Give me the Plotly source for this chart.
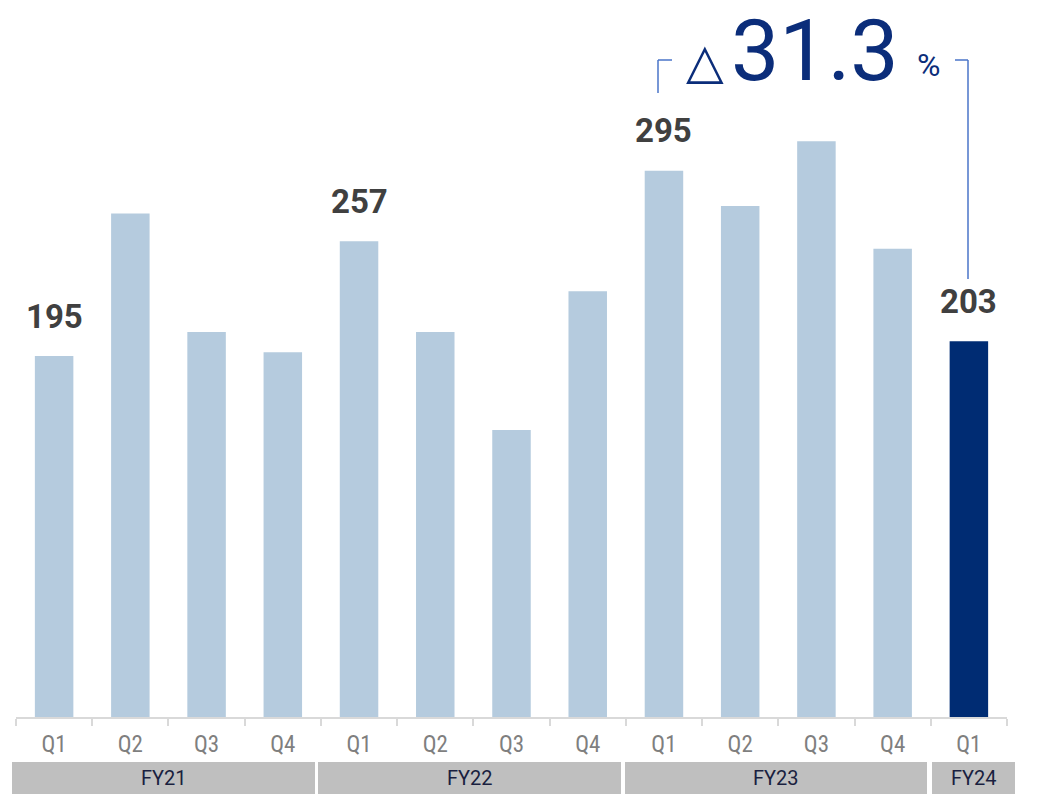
import plotly.graph_objects as go

# ---- data ----
quarters = ["Q1", "Q2", "Q3", "Q4", "Q1", "Q2", "Q3", "Q4", "Q1", "Q2", "Q3", "Q4", "Q1"]
fiscal_years = ["FY21", "FY22", "FY23", "FY24"]
fy_counts = [4, 4, 4, 1]
values = [195, 272, 208, 197, 257, 208, 155, 230, 295, 276, 311, 253, 203]
labeled = [0, 4, 8, 12]
change_text = "31.3"

# ---- layout constants (page offset of 8px from the html body margin) ----
OFF = 8
FIG_W, FIG_H = 1058 - OFF, 794 - OFF
PLOT_X0, PLOT_X1 = 16, 1007          # page px
PLOT_Y0, PLOT_Y1 = 8, 717            # page px
L = PLOT_X0 - OFF
R = FIG_W - (PLOT_X1 - OFF)
T = PLOT_Y0 - OFF
B = FIG_H - (PLOT_Y1 - OFF)
PW = PLOT_X1 - PLOT_X0
PH = PLOT_Y1 - PLOT_Y0


def px_x(px):
    return (px - PLOT_X0) / PW


def px_y(py):
    return (PLOT_Y1 - py) / PH


LIGHT = "#B5CBDE"
DARK = "#002C73"
NAVY = "#0B2D7A"
BRACKET = "#4A74C9"
COND = "Liberation Sans Narrow, Roboto Condensed, Roboto, sans-serif"

x = list(range(len(values)))
colors = [LIGHT] * (len(values) - 1) + [DARK]

fig = go.Figure()
fig.add_trace(go.Bar(x=x, y=values, marker=dict(color=colors, line=dict(width=0)),
                     width=0.505, hoverinfo="skip"))

annotations = []
for i in labeled:
    annotations.append(dict(x=i, y=values[i], xref="x", yref="y", text=str(values[i]),
                            showarrow=False, yanchor="middle", yshift=40,
                            font=dict(family="Roboto, sans-serif", size=33, color="#404040",
                                      weight="bold")))

# change annotation
annotations.append(dict(x=px_x(704.5), y=px_y(62), xref="paper", yref="paper", text="△",
                        showarrow=False, xanchor="center", yanchor="middle",
                        font=dict(family="DejaVu Sans", size=49, color=NAVY)))
annotations.append(dict(x=px_x(814.5), y=px_y(50), xref="paper", yref="paper", text=change_text,
                        showarrow=False, xanchor="center", yanchor="middle",
                        font=dict(family="Roboto, sans-serif", size=86, color=NAVY)))
annotations.append(dict(x=px_x(928.5), y=px_y(65), xref="paper", yref="paper", text="%",
                        showarrow=False, xanchor="center", yanchor="middle",
                        font=dict(family="Roboto, sans-serif", size=32, color=NAVY)))

shapes = []
# bracket
for (x0, y0, x1, y1) in [(658, 93, 658, 60), (658, 60, 672, 60),
                         (955, 60, 968, 60), (968, 60, 968, 279)]:
    shapes.append(dict(type="line", xref="paper", yref="paper",
                       x0=px_x(x0), y0=px_y(y0), x1=px_x(x1), y1=px_y(y1),
                       line=dict(color=BRACKET, width=1.5)))

# fiscal year bands
band_edges = [(12, 315), (318, 621), (625, 927), (932, 1015)]
for fy, (bx0, bx1) in zip(fiscal_years, band_edges):
    shapes.append(dict(type="rect", xref="paper", yref="paper",
                       x0=px_x(bx0), x1=px_x(bx1), y0=px_y(762), y1=px_y(794),
                       fillcolor="#BFBFBF", line=dict(width=0), layer="below"))
    annotations.append(dict(x=px_x((bx0 + bx1) / 2), y=px_y(778), xref="paper", yref="paper",
                            text=fy, showarrow=False, xanchor="center", yanchor="middle",
                            font=dict(family="Roboto, sans-serif", size=20, color="#1A1F40")))

ymax = PH / ((717 - 356) / 195)

fig.update_layout(
    width=FIG_W, height=FIG_H, autosize=False,
    margin=dict(l=L, r=R, t=T, b=B),
    paper_bgcolor="white", plot_bgcolor="white",
    showlegend=False,
    bargap=0.5,
    annotations=annotations,
    shapes=shapes,
    xaxis=dict(range=[-0.5, len(values) - 0.5], tickmode="array", tickvals=x, ticktext=quarters,
               ticks="", showgrid=False, zeroline=False, showline=True,
               linecolor="#D9D9D9", linewidth=1.5,
               tickfont=dict(family=COND, size=23, color="#7F7F7F"),
               ticklabelstandoff=6,
               minor=dict(tickmode="array", tickvals=[i - 0.5 for i in range(len(values) + 1)],
                          ticks="outside", ticklen=7, tickcolor="#D9D9D9", tickwidth=1.5,
                          showgrid=False),
               fixedrange=True),
    yaxis=dict(range=[0, ymax], visible=False, showgrid=False, zeroline=False, fixedrange=True),
)

fig.write_html("out.html")
